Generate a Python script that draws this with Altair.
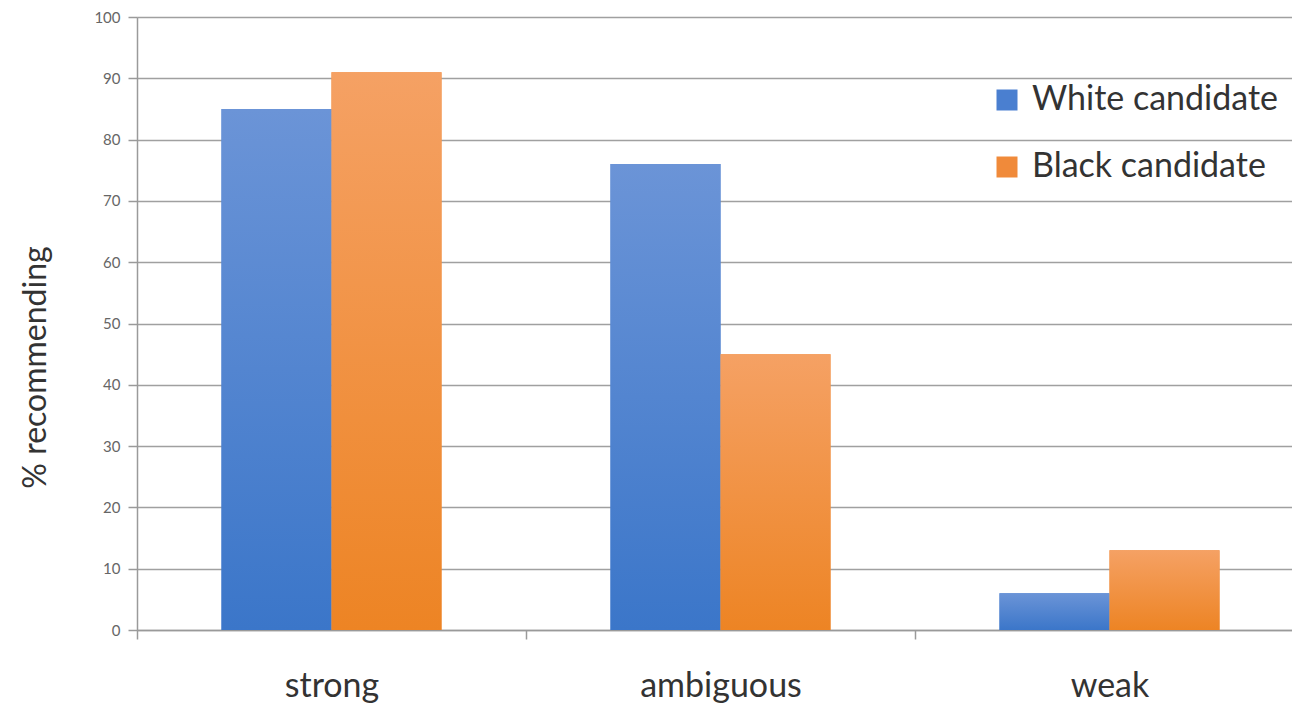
import altair as alt
import pandas as pd

categories = ["strong", "ambiguous", "weak"]
series = ["White candidate", "Black candidate"]
white_values = [85, 76, 6]
black_values = [91, 45, 13]
y_ticks = list(range(0, 101, 10))

rows = []
for c, w, b in zip(categories, white_values, black_values):
    rows.append({"category": c, "series": series[0], "value": w})
    rows.append({"category": c, "series": series[1], "value": b})
df = pd.DataFrame(rows)

FONT = "Lato"
blue = "#4a7fd0"
orange = "#f08a3a"

blue_grad = alt.Gradient(
    gradient="linear",
    stops=[alt.GradientStop(color="#6b94d7", offset=0),
           alt.GradientStop(color="#3b76c9", offset=1)],
    x1=0, x2=0, y1=0, y2=1,
)
orange_grad = alt.Gradient(
    gradient="linear",
    stops=[alt.GradientStop(color="#f5a164", offset=0),
           alt.GradientStop(color="#ed8424", offset=1)],
    x1=0, x2=0, y1=0, y2=1,
)

x_enc = alt.X(
    "category:N", sort=categories,
    scale=alt.Scale(paddingInner=0, paddingOuter=0, range=[0, 1167]),
    axis=alt.Axis(title=None, labelAngle=0, labelFontSize=34, labelFont=FONT,
                  labelColor="#333333", labelPadding=30, tickBand="extent",
                  tickSize=9, tickColor="#9a9a9a", tickWidth=1.5,
                  domainColor="#9a9a9a", domainWidth=1.5, grid=False),
)
xo_enc = alt.XOffset("series:N", sort=series,
                     scale=alt.Scale(paddingOuter=0.768, paddingInner=0))
y_enc = alt.Y(
    "value:Q", scale=alt.Scale(domain=[0, 100], nice=False),
    axis=alt.Axis(title="% recommending", values=y_ticks, labelFontSize=15,
                  labelFont=FONT, labelColor="#666666", labelPadding=8,
                  tickSize=9, tickColor="#9a9a9a", tickWidth=1.5,
                  domainColor="#9a9a9a", domainWidth=1.5,
                  grid=True, gridColor="#a0a0a0", gridWidth=1.5,
                  titleFontSize=32, titleFont=FONT, titleFontWeight="normal",
                  titleColor="#333333", titleAngle=270, titleX=-102, titleY=350,
                  titleBaseline="middle", titleAlign="center"),
)

base = alt.Chart(df).encode(x=x_enc, xOffset=xo_enc, y=y_enc)

solid = base.mark_bar().encode(
    color=alt.Color(
        "series:N", sort=series,
        scale=alt.Scale(domain=series, range=[blue, orange]),
        legend=alt.Legend(title=None, orient="none", legendX=853, legendY=66,
                          symbolType="square", symbolSize=441,
                          symbolStrokeWidth=0, labelFontSize=34,
                          labelFont=FONT, labelColor="#333333",
                          labelOffset=8, rowPadding=33, labelLimit=400),
    )
)
white_layer = base.mark_bar(color=blue_grad).transform_filter(
    alt.datum.series == series[0])
black_layer = base.mark_bar(color=orange_grad).transform_filter(
    alt.datum.series == series[1])

chart = alt.layer(solid, white_layer, black_layer).properties(
    width=1155, height=613,
    autosize=alt.AutoSizeParams(type="none"),
    padding={"left": 137, "top": 17, "right": 0, "bottom": 74},
).configure_view(stroke=None).configure(background="white")

chart.save("out.html", embed_options={"renderer": "svg", "actions": False})
